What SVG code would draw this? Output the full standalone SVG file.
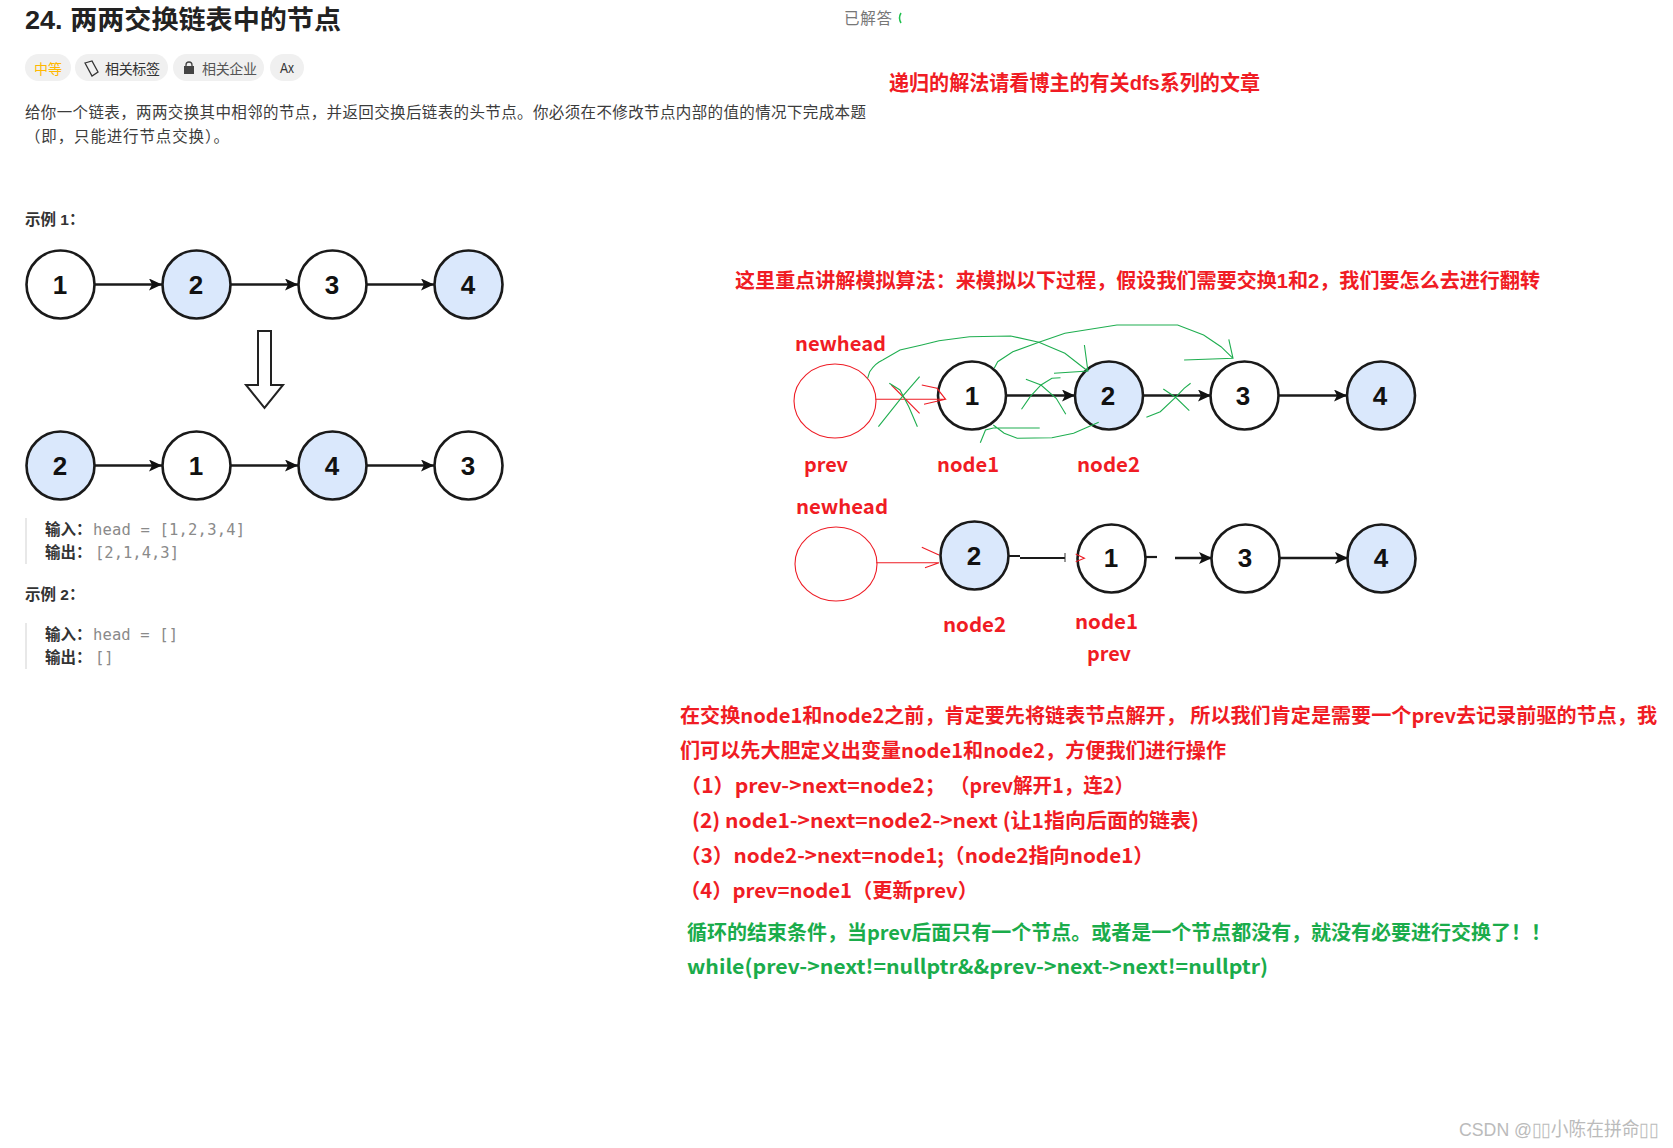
<svg xmlns="http://www.w3.org/2000/svg" width="1673" height="1148" viewBox="0 0 1673 1148">
<style>
text{font-family:"Liberation Sans","Noto Sans CJK SC",sans-serif}
.n circle{stroke:#1a1a1a;stroke-width:2.6;fill:#fff}
.n.b circle{fill:#dae8fc}
.n text{font-size:26px;font-weight:700;text-anchor:middle;fill:#111}
.e line{stroke:#1a1a1a;stroke-width:2.3;marker-end:url(#a)}
.r,.g{font-family:"Noto Sans CJK SC","Liberation Sans",sans-serif;font-weight:700;font-size:20px}
.r{fill:#f01c24}
.g{fill:#1aac4b}
.s{fill:none;stroke:#1fae50;stroke-width:1.1}
.rl{fill:none;stroke:#ee1c25;stroke-width:1.1}
.d{font-size:15.5px;fill:#3c3c3c}
.b1{font-size:15.5px;font-weight:700;fill:#333}
.m{font-family:"DejaVu Sans Mono","Liberation Mono",monospace;font-size:15.5px;fill:#8a8a8a}
.p{fill:#f0f0f0}
</style>
<defs><marker id="a" markerWidth="14" markerHeight="12" refX="13" refY="6" orient="auto" markerUnits="userSpaceOnUse"><path d="M0 0L13 6L0 12L3 6Z" fill="#111"/></marker></defs>
<rect width="1673" height="1148" fill="#fff"/>
<text x="25" y="29" font-size="26" font-weight="700" fill="#222" textLength="316" lengthAdjust="spacingAndGlyphs">24. 两两交换链表中的节点</text>
<text x="844" y="24" font-size="15.500" fill="#777" textLength="48">已解答</text>
<path d="M901 13Q898 18 901 23" fill="none" stroke="#1fc04d" stroke-width="1.5"/>
<rect class="p" x="25" y="54" width="46" height="27" rx="13.500"/>
<rect class="p" x="75" y="54" width="93" height="27" rx="13.500"/>
<rect class="p" x="173" y="54" width="91" height="27" rx="13.500"/>
<rect class="p" x="270" y="54" width="34" height="27" rx="13.500"/>
<text x="34" y="74" font-size="14" fill="#ffb800" textLength="28">中等</text>
<path d="M85 63L92 61L98 72L92 76Z" fill="none" stroke="#333" stroke-width="1.300"/>
<text x="105" y="74" font-size="14" fill="#333" textLength="55">相关标签</text>
<path d="M186 65a3 3 0 0 1 6 0v2h-6Z" fill="none" stroke="#444" stroke-width="1.300"/>
<rect x="184" y="66" width="10" height="8" fill="#444"/>
<text x="202" y="74" font-size="14" fill="#555" textLength="55">相关企业</text>
<text x="280" y="73" font-size="14" fill="#333" textLength="14" lengthAdjust="spacingAndGlyphs">Ax</text>
<text class="d" x="25" y="118" textLength="841">给你一个链表，两两交换其中相邻的节点，并返回交换后链表的头节点。你必须在不修改节点内部的值的情况下完成本题</text>
<text class="d" x="25" y="142" textLength="204">（即，只能进行节点交换）。</text>
<text class="b1" x="25" y="225">示例 1：</text>
<text class="b1" x="25" y="600">示例 2：</text>
<rect x="25" y="518" width="2" height="46" fill="#e8e8e8"/>
<rect x="25" y="623" width="2" height="46" fill="#e8e8e8"/>
<text class="b1" x="45" y="535">输入：</text><text class="m" x="93" y="535" textLength="152">head = [1,2,3,4]</text>
<text class="b1" x="45" y="558">输出：</text><text class="m" x="95" y="558">[2,1,4,3]</text>
<text class="b1" x="45" y="640">输入：</text><text class="m" x="93" y="640" textLength="85">head = []</text>
<text class="b1" x="45" y="663">输出：</text><text class="m" x="95" y="663">[]</text>
<text x="889" y="90" font-size="21" font-weight="700" fill="#f01c24" textLength="371" lengthAdjust="spacingAndGlyphs">递归的解法请看博主的有关dfs系列的文章</text>
<text x="735" y="288" font-size="20" font-weight="700" fill="#f01c24" textLength="805" lengthAdjust="spacingAndGlyphs">这里重点讲解模拟算法：来模拟以下过程，假设我们需要交换1和2，我们要怎么去进行翻转</text>
<g class="e" id="connectors">
<line x1="95" y1="284.500" x2="162" y2="284.500"/><line x1="231" y1="284.500" x2="298" y2="284.500"/><line x1="367" y1="284.500" x2="434" y2="284.500"/>
<line x1="95" y1="465.500" x2="162" y2="465.500"/><line x1="231" y1="465.500" x2="298" y2="465.500"/><line x1="367" y1="465.500" x2="434" y2="465.500"/>
<line x1="1006" y1="395.500" x2="1075" y2="395.500"/><line x1="1143" y1="395.500" x2="1211" y2="395.500"/><line x1="1279" y1="395.500" x2="1347" y2="395.500"/>
<line x1="1175" y1="558" x2="1212" y2="558"/><line x1="1280" y1="558" x2="1348" y2="558"/>
<path d="M1009 556h11M1020 558h45" stroke="#1a1a1a" stroke-width="2.200" fill="none"/><path d="M1065 553v9" stroke="#333"/>
<path d="M1146 557h11" stroke="#1a1a1a" stroke-width="2.200"/>
</g>
<path id="down-arrow" d="M258 331H271V385H283L264.500 408L246 385H258Z" fill="#fff" stroke="#222" stroke-width="2"/>
<g class="n" id="a1"><circle cx="60.500" cy="284.500" r="34"/><text x="60" y="294">1</text></g>
<g class="n b" id="a2"><circle cx="196.500" cy="284.500" r="34"/><text x="196" y="294">2</text></g>
<g class="n" id="a3"><circle cx="332.500" cy="284.500" r="34"/><text x="332" y="294">3</text></g>
<g class="n b" id="a4"><circle cx="468.500" cy="284.500" r="34"/><text x="468" y="294">4</text></g>
<g class="n b" id="b2"><circle cx="60.500" cy="465.500" r="34"/><text x="60" y="475">2</text></g>
<g class="n" id="b1"><circle cx="196.500" cy="465.500" r="34"/><text x="196" y="475">1</text></g>
<g class="n b" id="b4"><circle cx="332.500" cy="465.500" r="34"/><text x="332" y="475">4</text></g>
<g class="n" id="b3"><circle cx="468.500" cy="465.500" r="34"/><text x="468" y="475">3</text></g>
<g class="n" id="c1"><circle cx="972" cy="395.500" r="34"/><text x="972" y="405">1</text></g>
<g class="n b" id="c2"><circle cx="1109" cy="395.500" r="34"/><text x="1108" y="405">2</text></g>
<g class="n" id="c3"><circle cx="1244.500" cy="395.500" r="34"/><text x="1243" y="405">3</text></g>
<g class="n b" id="c4"><circle cx="1381" cy="395.500" r="34"/><text x="1380" y="405">4</text></g>
<g class="n b" id="d2"><circle cx="974.500" cy="555.500" r="34"/><text x="974" y="565">2</text></g>
<g class="n" id="d1"><circle cx="1111.500" cy="558.500" r="34"/><text x="1111" y="567">1</text></g>
<g class="n" id="d3"><circle cx="1245.500" cy="558.500" r="34"/><text x="1245" y="567">3</text></g>
<g class="n b" id="d4"><circle cx="1381.500" cy="558.500" r="34"/><text x="1381" y="567">4</text></g>
<g id="freehand">
<ellipse class="rl" cx="835" cy="401" rx="41" ry="37"/>
<ellipse class="rl" cx="836" cy="564" rx="41" ry="37"/>
<path class="rl" d="M875.400 399.300H945.600L937 388.300L921.800 385M945.600 399.300L924 404.300M891.400 385L919.600 413.300"/>
<path class="rl" d="M876.200 562.700H939M921.800 547.300L939 555M925 567.700L939 562.700"/>
<path class="rl" d="M1075.700 554L1084.400 558.300L1075.700 561.700"/>
<path class="s" d="M867.600 378.300L869.700 371.700C874 365 878 362 882.700 360L900 350L921.800 345L939 340.700L969.500 336.700L1010.700 336L1038.900 342.300L1064.900 353.300L1082.200 366.700L1087.900 371M1054 373.300L1087.900 371L1084.400 345"/>
<path class="s" d="M994.200 368.300L997.700 361.700L1012.800 351.700L1038.900 342.300L1064.900 333.300L1116.900 325L1177.600 325L1203.600 335L1221 346.700L1233 358.300M1184.100 360L1233 358.300L1228.800 339.300"/>
<path class="s" d="M878.400 426.700L902.300 396.700L919.600 376.700M889.300 383.300L900 390L908.800 406.700L917.400 426.700"/>
<path class="s" d="M1021.500 409.300L1030.200 396.700L1041 385L1051.900 378.300L1060.500 377.700M1025.900 379.300L1041 385L1056.200 398.300L1065.800 414.300"/>
<path class="s" d="M1146.400 417.300L1160.300 411.700L1175.500 397.300L1184.100 388.300L1190.600 383.300M1163.300 389L1175.500 397.300L1189.300 410.700"/>
<path class="s" d="M1098.700 422.300L1073.600 433.300L1051.900 437.700L1017.200 438.300L1004.200 433.300L993.300 425M1039.700 428L993.300 428M980.300 442.700L985.500 430L993.300 428"/>
</g>
<text class="r" x="795" y="351" textLength="91" lengthAdjust="spacingAndGlyphs">newhead</text>
<text class="r" x="804" y="472" textLength="44" lengthAdjust="spacingAndGlyphs">prev</text>
<text class="r" x="937" y="472" textLength="62" lengthAdjust="spacingAndGlyphs">node1</text>
<text class="r" x="1077" y="472" textLength="63" lengthAdjust="spacingAndGlyphs">node2</text>
<text class="r" x="796" y="514" textLength="92" lengthAdjust="spacingAndGlyphs">newhead</text>
<text class="r" x="943" y="632" textLength="63" lengthAdjust="spacingAndGlyphs">node2</text>
<text class="r" x="1075" y="629" textLength="63" lengthAdjust="spacingAndGlyphs">node1</text>
<text class="r" x="1087" y="661" textLength="44" lengthAdjust="spacingAndGlyphs">prev</text>
<text class="r" x="680" y="723" textLength="977" lengthAdjust="spacingAndGlyphs">在交换node1和node2之前，肯定要先将链表节点解开， 所以我们肯定是需要一个prev去记录前驱的节点，我</text>
<text class="r" x="680" y="758" textLength="546" lengthAdjust="spacingAndGlyphs">们可以先大胆定义出变量node1和node2，方便我们进行操作</text>
<text class="r" x="680" y="793" textLength="266" lengthAdjust="spacingAndGlyphs">（1）prev-&gt;next=node2；</text>
<text class="r" x="950" y="793" textLength="184" lengthAdjust="spacingAndGlyphs">（prev解开1，连2）</text>
<text class="r" x="692" y="828" textLength="507" lengthAdjust="spacingAndGlyphs">(2) node1-&gt;next=node2-&gt;next (让1指向后面的链表)</text>
<text class="r" x="680" y="863" textLength="474" lengthAdjust="spacingAndGlyphs">（3）node2-&gt;next=node1;（node2指向node1）</text>
<text class="r" x="680" y="898" textLength="298" lengthAdjust="spacingAndGlyphs">（4）prev=node1（更新prev）</text>
<text class="g" x="687" y="940" textLength="864" lengthAdjust="spacingAndGlyphs">循环的结束条件，当prev后面只有一个节点。或者是一个节点都没有，就没有必要进行交换了！！</text>
<text class="g" x="687" y="974" textLength="581" lengthAdjust="spacingAndGlyphs">while(prev-&gt;next!=nullptr&amp;&amp;prev-&gt;next-&gt;next!=nullptr)</text>
<text x="1459" y="1136" font-size="19" fill="#bbb" textLength="199" lengthAdjust="spacingAndGlyphs">CSDN @▯▯小陈在拼命▯▯</text>
</svg>
